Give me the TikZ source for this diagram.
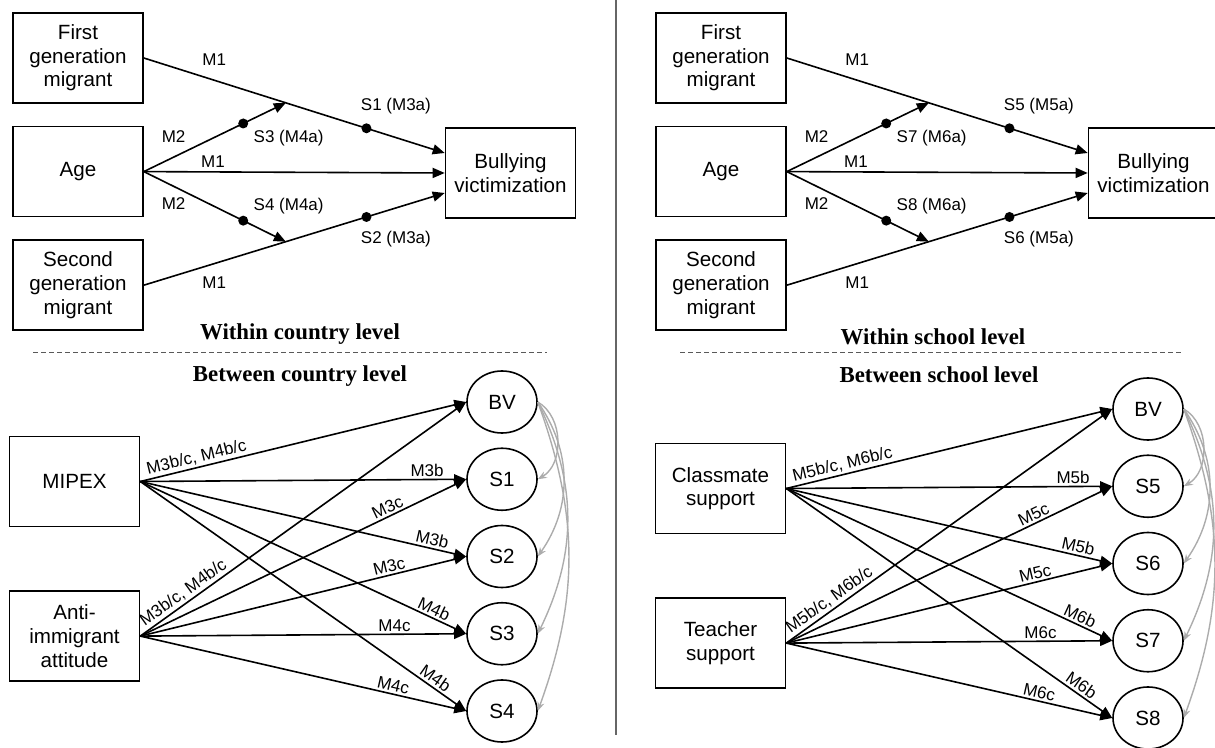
\documentclass[tikz,border=0pt]{standalone}
\usepackage{fontspec}
\setmainfont{Liberation Sans}
\newfontfamily\timesfont{Liberation Serif}
\usetikzlibrary{positioning,calc,arrows.meta,shapes.geometric}

\tikzset{
  box/.style={draw,line width=0.8pt,minimum width=65pt,minimum height=45pt,
    align=center,font=\fontsize{10.3}{11.8}\selectfont},
  latent/.style={draw,ellipse,line width=0.8pt,minimum width=35pt,
    minimum height=31pt,inner sep=0pt,font=\fontsize{10.3}{12}\selectfont},
  dot/.style={circle,fill,inner sep=0pt,minimum size=5pt},
  lbl/.style={font=\fontsize{8.5}{10}\selectfont,inner sep=1pt},
  arr/.style={line width=0.8pt,-{Triangle[length=6pt,width=5pt]}},
  cov/.style={gray!65,line width=0.7pt,-{Stealth[length=4.5pt,width=3.5pt]}},
  lvltitle/.style={font=\timesfont\bfseries\fontsize{11.4}{13}\selectfont},
  sep/.style={gray!70!black,line width=0.5pt,dash pattern=on 2.5pt off 1.5pt}
}

\begin{document}
\begin{tikzpicture}[x=0.5pt,y=-0.5pt]
\useasboundingbox (0,0) rectangle (1215,748);

% within level: observed paths
\foreach \p/\dx/\sa/\sb/\sc/\sd/\ma/\mb in
  {1/0/S1/S2/S3/S4/M3a/M4a, 2/643/S5/S6/S7/S8/M5a/M6a}{
  \node[box] (fg\p) at (78+\dx,58) {First\\generation\\migrant};
  \node[box,below=11pt of fg\p] (age\p) {Age};
  \node[box,below=11pt of age\p] (sg\p) {Second\\generation\\migrant};
  \node[box] (bully\p) at (510.5+\dx,173) {Bullying\\victimization};
  \coordinate (up\p) at ($(fg\p.east)!.472!([yshift=10pt]bully\p.west)$);
  \coordinate (dn\p) at ($(sg\p.east)!.472!([yshift=-10pt]bully\p.west)$);

  \draw[arr] (fg\p.east) -- node[lbl,pos=.234,above=6pt]{M1}
    node[dot,pos=.74] (da\p) {} ([yshift=10pt]bully\p.west);
  \draw[arr] (sg\p.east) -- node[lbl,pos=.234,below=5pt]{M1}
    node[dot,pos=.74] (db\p) {} ([yshift=-10pt]bully\p.west);
  \draw[arr] (age\p.east) -- node[lbl,pos=.23,above=1pt]{M1} (bully\p.west);
  \draw[arr] (age\p.east) -- node[lbl,pos=.21,above=6pt]{M2}
    node[dot,pos=.7] (dc\p) {} (up\p);
  \draw[arr] (age\p.east) -- node[lbl,pos=.21,below=4.5pt]{M2}
    node[dot,pos=.7] (dd\p) {} (dn\p);

  \node[lbl,above right=4pt and -6pt of da\p] {\sa\ (\ma)};
  \node[lbl,below right=4pt and -6pt of db\p] {\sb\ (\ma)};
  \node[lbl,below right=0pt and 2pt of dc\p] {\sc\ (\mb)};
  \node[lbl,above right=0pt and 2pt of dd\p] {\sd\ (\mb)};
}

% level titles
\node[lvltitle] (win1) at (300,334) {Within country level};
\node[lvltitle] (btw1) at (300,376) {Between country level};
\draw[sep] (33,353) -- (547,353);
\node[lvltitle] (win2) at (933,337) {Within school level};
\node[lvltitle] (btw2) at (939,375) {Between school level};
\draw[sep] (680,353) -- (1182,353);
\draw[gray!80!black,line width=0.6pt] (616,0) -- (616,735);

% between level: contextual predictors
\foreach \p/\bx/\by/\mx/\my/\off/\srca/\srcb in
  {1/0/0/3/4/0/MIPEX/{Anti-\\immigrant\\attitude},
   2/646/7/5/6/4/{Classmate\\support}/{Teacher\\support}}{
  \node[box] (pa\p) at (74.5+\bx,481.5+\by) {\srca};
  \node[box,below=31.5pt of pa\p] (pb\p) {\srcb};
  \node[latent] (bv\p) at (502+\bx,402+\by) {BV};
  \foreach \i [evaluate=\i as \n using int(\i+\off)] in {1,...,4}
    \node[latent] (s\p\i) at (502+\bx,402+\by+77.25*\i) {S\n};

  \draw[arr] (pa\p.east) -- node[lbl,sloped,above,pos=.18]{M\mx b/c, M\my b/c} (bv\p.west);
  \draw[arr] (pb\p.east) -- node[lbl,sloped,above,pos=.15]{M\mx b/c, M\my b/c} (bv\p.west);
  \draw[arr] (pa\p.east) -- node[lbl,above,pos=.88]{M\mx b} (s\p1.west);
  \draw[arr] (pb\p.east) -- node[lbl,sloped,above,pos=.77]{M\mx c} (s\p1.west);
  \draw[arr] (pa\p.east) -- node[lbl,sloped,above,pos=.89]{M\mx b} (s\p2.west);
  \draw[arr] (pb\p.east) -- node[lbl,sloped,above,pos=.77]{M\mx c} (s\p2.west);
  \draw[arr] (pa\p.east) -- node[lbl,sloped,above,pos=.89]{M\my b} (s\p3.west);
  \draw[arr] (pb\p.east) -- node[lbl,above,pos=.78]{M\my c} (s\p3.west);
  \draw[arr] (pa\p.east) -- node[lbl,sloped,above,pos=.89]{M\my b} (s\p4.west);
  \draw[arr] (pb\p.east) -- node[lbl,sloped,above,pos=.77]{M\my c} (s\p4.west);

  % residual covariances
  \foreach \i/\a in {1/30,2/55,3/64,4/70}
    \draw[cov] (bv\p.east) to[out=-\a,in=\a] (s\p\i.east);
}
\end{tikzpicture}
\end{document}
